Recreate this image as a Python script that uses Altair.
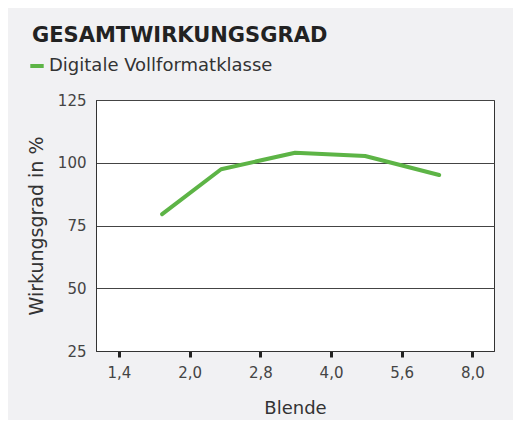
import altair as alt
import pandas as pd

# --- data ---
series_name = "Digitale Vollformatklasse"
blende = [1.73, 2.31, 3.32, 4.68, 6.73]          # f-number (Blende)
wirkungsgrad = [79.5, 97.4, 104.0, 102.7, 95.1]  # %
tick_labels = ["1,4", "2,0", "2,8", "4,0", "5,6", "8,0"]
tick_stops = [0, 1, 2, 3, 4, 5]
y_ticks = [25, 50, 75, 100, 125]

df = pd.DataFrame({"blende": blende, "wirkungsgrad": wirkungsgrad, "serie": series_name})

FONT = "DejaVu Sans"
label_arr = "[" + ",".join('"%s"' % t for t in tick_labels) + "]"

chart = (
    alt.Chart(df)
    .transform_calculate(stop="2*log(datum.blende/1.4)/log(2)")
    .mark_line(strokeWidth=4, strokeCap="round", strokeJoin="round")
    .encode(
        x=alt.X(
            "stop:Q",
            scale=alt.Scale(domain=[-0.325, 5.306], nice=False, zero=False),
            axis=alt.Axis(
                title="Blende",
                values=tick_stops,
                labelExpr=label_arr + "[datum.value]",
                grid=False,
                domainColor="#333333",
                tickColor="#222222",
                tickWidth=3,
                tickSize=6,
                labelPadding=8,
                labelFontSize=15,
                labelColor="#444444",
                labelFont=FONT,
                titleFont=FONT,
                titleFontSize=18,
                titleFontWeight="normal",
                titleColor="#333333",
                titlePadding=19,
            ),
        ),
        y=alt.Y(
            "wirkungsgrad:Q",
            scale=alt.Scale(domain=[25, 125], nice=False, zero=False),
            axis=alt.Axis(
                title="Wirkungsgrad in %",
                values=y_ticks,
                grid=True,
                gridColor="#444444",
                gridWidth=1,
                ticks=False,
                domainColor="#333333",
                labelPadding=10,
                labelFontSize=15,
                labelColor="#444444",
                labelFont=FONT,
                titleFont=FONT,
                titleFontSize=19,
                titleFontWeight="normal",
                titleColor="#333333",
                titlePadding=11,
            ),
        ),
        color=alt.Color(
            "serie:N",
            scale=alt.Scale(range=["#5db446"]),
            legend=alt.Legend(
                title=None,
                orient="none",
                legendX=-68,
                legendY=-43,
                symbolType="stroke",
                symbolStrokeWidth=4,
                symbolSize=180,
                labelFontSize=18,
                labelFont=FONT,
                labelColor="#333333",
                labelOffset=3,
                labelLimit=400,
            ),
        ),
    )
    .properties(
        width=398,
        height=251,
        autosize=alt.AutoSizeParams(type="none"),
        padding={"left": 88, "top": 92, "right": 19, "bottom": 69},
        background="#f1f1f3",
        title=alt.TitleParams(
            "GESAMTWIRKUNGSGRAD",
            anchor="start",
            frame="group",
            dx=-64,
            offset=11,
            fontSize=21,
            font=FONT,
            fontWeight="bold",
            color="#222222",
        ),
    )
    .configure_view(stroke="#333333", strokeWidth=1, fill="white")
)

chart.save("out.html", embed_options={"renderer": "svg", "actions": False})
